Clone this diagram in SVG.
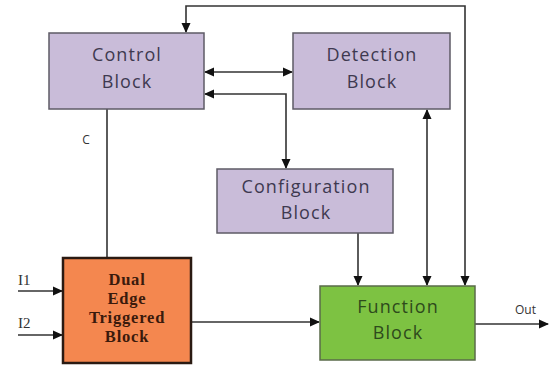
<svg xmlns="http://www.w3.org/2000/svg" width="549" height="366" viewBox="0 0 549 366">
<defs>
<style>
.blk{fill:#c9bcd9;stroke:#5e5b66;stroke-width:1.5}
.t{font-family:"Open Sans","DejaVu Sans",sans-serif;font-size:18px;font-weight:500;fill:#3e3950;text-anchor:middle;letter-spacing:1.1px}
.ln{fill:none;stroke:#333;stroke-width:1.6}
.s{font-family:"Liberation Serif",serif;font-weight:bold;font-size:16.5px;fill:#3a1a0c;text-anchor:middle;letter-spacing:0.8px}
.lab{font-family:"Open Sans","DejaVu Sans",sans-serif;font-size:12px;fill:#333}
</style>
<marker id="ah" markerWidth="10" markerHeight="10" refX="9" refY="5" orient="auto" markerUnits="userSpaceOnUse">
<path d="M0,0.5 L10,5 L0,9.5 Z" fill="#111"/>
</marker>
<marker id="ahs" markerWidth="10" markerHeight="10" refX="1" refY="5" orient="auto" markerUnits="userSpaceOnUse">
<path d="M10,0.5 L0,5 L10,9.5 Z" fill="#111"/>
</marker>
</defs>
<rect width="549" height="366" fill="#fff"/>
<g id="connectors">
<path class="ln" d="M465,285 L465,6 L186,6 L186,32" marker-end="url(#ah)" marker-start="url(#ahs)"/>
<path class="ln" d="M205,72 L292,72" marker-start="url(#ahs)" marker-end="url(#ah)"/>
<path class="ln" d="M205,94 L286,94 L286,168" marker-start="url(#ahs)" marker-end="url(#ah)"/>
<path class="ln" d="M427,110 L427,285" marker-start="url(#ahs)" marker-end="url(#ah)"/>
<path class="ln" d="M358,233 L358,285" marker-end="url(#ah)"/>
<path class="ln" d="M107,109 L107,258"/>
<path class="ln" d="M18,291 L62,291" marker-end="url(#ah)"/>
<path class="ln" d="M18,335 L62,335" marker-end="url(#ah)"/>
<path class="ln" d="M191,322 L319,322" marker-end="url(#ah)"/>
<path class="ln" d="M475,324 L548,324" marker-end="url(#ah)"/>
<text class="lab" x="86" y="144" text-anchor="middle">C</text>
<text x="18" y="285" style="font-family:'Liberation Serif',serif;font-size:15px;fill:#333">I1</text>
<text x="18" y="328" style="font-family:'Liberation Serif',serif;font-size:15px;fill:#333">I2</text>
<text class="lab" x="515" y="314">Out</text>
</g>
<g id="control">
<rect class="blk" x="49" y="33" width="155" height="76"/>
<text class="t" x="127" y="61">Control</text>
<text class="t" x="127" y="88">Block</text>
</g>
<g id="detection">
<rect class="blk" x="293" y="33" width="157" height="76"/>
<text class="t" x="372" y="61">Detection</text>
<text class="t" x="372" y="88">Block</text>
</g>
<g id="configuration">
<rect class="blk" x="217" y="169" width="176" height="64"/>
<text class="t" x="306" y="193">Configuration</text>
<text class="t" x="306" y="219">Block</text>
</g>
<g id="dual">
<rect x="63" y="258" width="128" height="105" fill="#f4874f" stroke="#2a1a12" stroke-width="2.5"/>
<text class="s" x="127" y="285">Dual</text>
<text class="s" x="127" y="304">Edge</text>
<text class="s" x="127" y="323">Triggered</text>
<text class="s" x="127" y="342">Block</text>
</g>
<g id="function">
<rect x="320" y="286" width="155" height="74" fill="#7dc242" stroke="#5a6b4a" stroke-width="1.5"/>
<text class="t" x="398" y="313" style="fill:#2e4a1c">Function</text>
<text class="t" x="398" y="339" style="fill:#2e4a1c">Block</text>
</g>
</svg>
